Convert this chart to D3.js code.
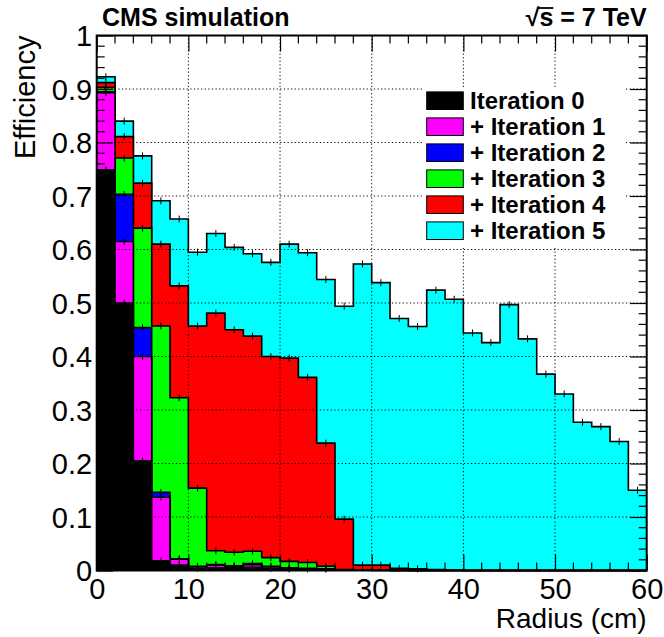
<!DOCTYPE html>
<html>
<head>
<meta charset="utf-8">
<script src="https://cdn.jsdelivr.net/npm/d3@7"></script>
<style>
  body { margin: 0; background: #fff; }
  svg { display: block; font-family: "Liberation Sans", Arial, Helvetica, sans-serif; }
</style>
</head>
<body>
<div id="chart"></div>
<script>
// bin lower edges (cm), width 2
let binEdges = [0,2,4,6,8,10,12,14,16,18,20,22,24,26,28,30,32,34,36,38,40,42,44,46,48,50,52,54,56,58]
let binWidth = 2

// efficiency added by each iteration, per bin
let iter0 = [0.749,0.500,0.205,0.018,0.010,0.004,0.005,0.005,0.006,0.004,0.003,0.002,0.002,0.001,0.001,0,0,0,0,0,0,0,0,0,0,0,0,0,0,0]
let iter1 = [0.144,0.115,0.195,0.119,0.011,0.003,0.005,0.003,0.005,0.003,0.001,0.001,0.001,0,0,0.001,0,0,0,0,0,0,0,0,0,0,0,0,0,0]
let iter2 = [0.002,0.088,0.054,0.009,0.001,0.001,0.001,0.001,0.002,0.001,0.001,0.001,0,0,0,0,0,0,0,0,0,0,0,0,0,0,0,0,0,0]
let iter3 = [0.008,0.068,0.186,0.311,0.301,0.146,0.026,0.025,0.023,0.016,0.012,0.011,0.005,0.001,0,0,0.001,0,0,0,0,0,0,0,0,0,0,0,0,0]
let iter4 = [0.009,0.040,0.084,0.153,0.209,0.303,0.444,0.416,0.402,0.376,0.380,0.346,0.230,0.094,0.009,0.009,0.003,0.003,0.002,0.001,0,0,0,0,0,0,0,0,0,0]
let iter5 = [0.011,0.029,0.051,0.081,0.125,0.138,0.149,0.154,0.154,0.176,0.213,0.233,0.306,0.398,0.563,0.528,0.467,0.453,0.522,0.506,0.444,0.426,0.497,0.433,0.367,0.330,0.277,0.269,0.241,0.150]

let seriesNames = ["Iteration 0", "+ Iteration 1", "+ Iteration 2", "+ Iteration 3", "+ Iteration 4", "+ Iteration 5"]
let seriesColors = ["#000000", "#ff00ff", "#0000ff", "#00ff00", "#ff0000", "#00ffff"]

let xTicks = [0,10,20,30,40,50,60]
let yTicks = [0,0.1,0.2,0.3,0.4,0.5,0.6,0.7,0.8,0.9,1]
let yTickLabels = ["0","0.1","0.2","0.3","0.4","0.5","0.6","0.7","0.8","0.9","1"]

let W = 664, H = 637
let m = {left: 96.7, right: 646.7, top: 35.5, bottom: 570.5}

let x = d3.scaleLinear().domain([0, 60]).range([m.left, m.right])
let y = d3.scaleLinear().domain([0, 1]).range([m.bottom, m.top])

let svg = d3.select("#chart").append("svg")
  .attr("width", W)
  .attr("height", H)

let rows = binEdges.map(function(e, i) {
  return {x0: e, i0: iter0[i], i1: iter1[i], i2: iter2[i], i3: iter3[i], i4: iter4[i], i5: iter5[i]}
})
let keys = ["i0","i1","i2","i3","i4","i5"]
let stacked = d3.stack().keys(keys)(rows)

// step outline; extra point closes the last bin at x=60
function stepPoints(layer) {
  let pts = layer.map(function(d) { return {x: d.data.x0, v: d[1]} })
  pts.push({x: 60, v: layer[layer.length - 1][1]})
  return pts
}

let area = d3.area()
  .curve(d3.curveStepAfter)
  .x(function(d) { return x(d.x) })
  .y0(y(0))
  .y1(function(d) { return y(d.v) })

let line = d3.line()
  .curve(d3.curveStepAfter)
  .x(function(d) { return x(d.x) })
  .y(function(d) { return y(d.v) })

let hist = svg.append("g")

// draw the summed histograms from the largest down, like a THStack
for (let k = stacked.length - 1; k >= 0; k--) {
  let pts = stepPoints(stacked[k])
  hist.append("path")
    .attr("d", area(pts))
    .attr("fill", seriesColors[k])
    .attr("stroke", "none")
  hist.append("path")
    .attr("d", line(pts))
    .attr("fill", "none")
    .attr("stroke", "#000")
    .attr("stroke-width", 1.6)
  // small error marks at bin centres
  hist.selectAll(null)
    .data(stacked[k].filter(function(d) { return d[1] > 0.002 }))
    .enter().append("line")
    .attr("x1", function(d) { return x(d.data.x0 + binWidth / 2) })
    .attr("x2", function(d) { return x(d.data.x0 + binWidth / 2) })
    .attr("y1", function(d) { return y(d[1]) - 3.5 })
    .attr("y2", function(d) { return y(d[1]) + 3.5 })
    .attr("stroke", "#000")
    .attr("stroke-width", 1)
}

// dotted grid on top of the fills
let grid = svg.append("g")
  .attr("stroke", "#000")
  .attr("stroke-width", 1)
  .attr("stroke-dasharray", "1.2,2.4")
grid.selectAll(null)
  .data(xTicks.slice(1, -1))
  .enter().append("line")
  .attr("x1", function(d) { return x(d) })
  .attr("x2", function(d) { return x(d) })
  .attr("y1", m.top)
  .attr("y2", m.bottom)
grid.selectAll(null)
  .data(yTicks.slice(1, -1))
  .enter().append("line")
  .attr("x1", m.left)
  .attr("x2", m.right)
  .attr("y1", function(d) { return y(d) })
  .attr("y2", function(d) { return y(d) })

// axes: ticks inside the frame on all four sides
let axisBottom = d3.axisBottom(x).tickValues(xTicks).tickSize(-16).tickFormat(d3.format("d")).tickPadding(8)
let axisTop = d3.axisTop(x).tickValues(xTicks).tickSize(-16).tickFormat("")
let axisLeft = d3.axisLeft(y).tickValues(yTicks).tickSize(-16.5)
  .tickFormat(function(d, i) { return yTickLabels[i] })
let axisRight = d3.axisRight(y).tickValues(yTicks).tickSize(-16.5).tickFormat("")

let minorX = d3.range(0, 61, 2).filter(function(v) { return v % 10 !== 0 })
let minorY = d3.range(0, 51).map(function(v) { return v / 50 }).filter(function(v, i) { return i % 5 !== 0 })

function styleAxis(g) {
  g.select(".domain").remove()
  g.selectAll(".tick line").attr("stroke", "#000").attr("stroke-width", 1.2)
  g.selectAll("text").attr("fill", "#000").style("font-size", "29px")
}

svg.append("g").attr("transform", "translate(0," + m.bottom + ")").call(axisBottom).call(styleAxis)
svg.append("g").attr("transform", "translate(0," + m.top + ")").call(axisTop).call(styleAxis)
let gl = svg.append("g").attr("transform", "translate(" + m.left + ",0)").call(axisLeft).call(styleAxis)
gl.selectAll("text").attr("x", -4.5).attr("text-anchor", "end").attr("dy", "0.36em")
svg.append("g").attr("transform", "translate(" + m.right + ",0)").call(axisRight).call(styleAxis)

let minor = svg.append("g").attr("stroke", "#000").attr("stroke-width", 1.2)
minorX.forEach(function(v) {
  minor.append("line").attr("x1", x(v)).attr("x2", x(v)).attr("y1", m.bottom).attr("y2", m.bottom - 8)
  minor.append("line").attr("x1", x(v)).attr("x2", x(v)).attr("y1", m.top).attr("y2", m.top + 8)
})
minorY.forEach(function(v) {
  minor.append("line").attr("x1", m.left).attr("x2", m.left + 8).attr("y1", y(v)).attr("y2", y(v))
  minor.append("line").attr("x1", m.right).attr("x2", m.right - 8).attr("y1", y(v)).attr("y2", y(v))
})

svg.append("rect")
  .attr("x", m.left).attr("y", m.top)
  .attr("width", m.right - m.left).attr("height", m.bottom - m.top)
  .attr("fill", "none").attr("stroke", "#000").attr("stroke-width", 2)

// legend
let legend = svg.append("g")
legend.append("rect")
  .attr("x", 422).attr("y", 87).attr("width", 204).attr("height", 161)
  .attr("fill", "#fff")
seriesNames.forEach(function(name, i) {
  let cy = 100.7 + i * 26
  legend.append("rect")
    .attr("x", 426.7).attr("y", cy - 8.8).attr("width", 36.6).attr("height", 17.6)
    .attr("fill", seriesColors[i]).attr("stroke", "#000").attr("stroke-width", 1)
  legend.append("text")
    .attr("x", 470).attr("y", cy + 8.6)
    .style("font-size", "24px").style("font-weight", "bold")
    .text(name)
})

// titles
svg.append("text")
  .attr("x", m.right).attr("y", 628)
  .attr("text-anchor", "end")
  .style("font-size", "28px")
  .text("Radius (cm)")
svg.append("text")
  .attr("transform", "translate(35," + m.top + ") rotate(-90)")
  .attr("text-anchor", "end")
  .style("font-size", "29px")
  .text("Efficiency")

svg.append("text")
  .attr("x", 102).attr("y", 26)
  .style("font-size", "25px").style("font-weight", "bold")
  .text("CMS simulation")
let energy = svg.append("text")
  .attr("x", m.right).attr("y", 26)
  .attr("text-anchor", "end")
  .style("font-size", "25px").style("font-weight", "bold")
energy.append("tspan").text("\u221A")
energy.append("tspan").attr("class", "sq").text("s")
energy.append("tspan").text(" = 7 TeV")
// bar of the square root over the s
let sq = energy.select(".sq").node()
let ext = sq.getExtentOfChar ? sq.getExtentOfChar(0) : null
if (ext) {
  svg.append("line")
    .attr("x1", ext.x - 1).attr("x2", ext.x + ext.width)
    .attr("y1", 8).attr("y2", 8)
    .attr("stroke", "#000").attr("stroke-width", 1.8)
}
</script>
</body>
</html>
